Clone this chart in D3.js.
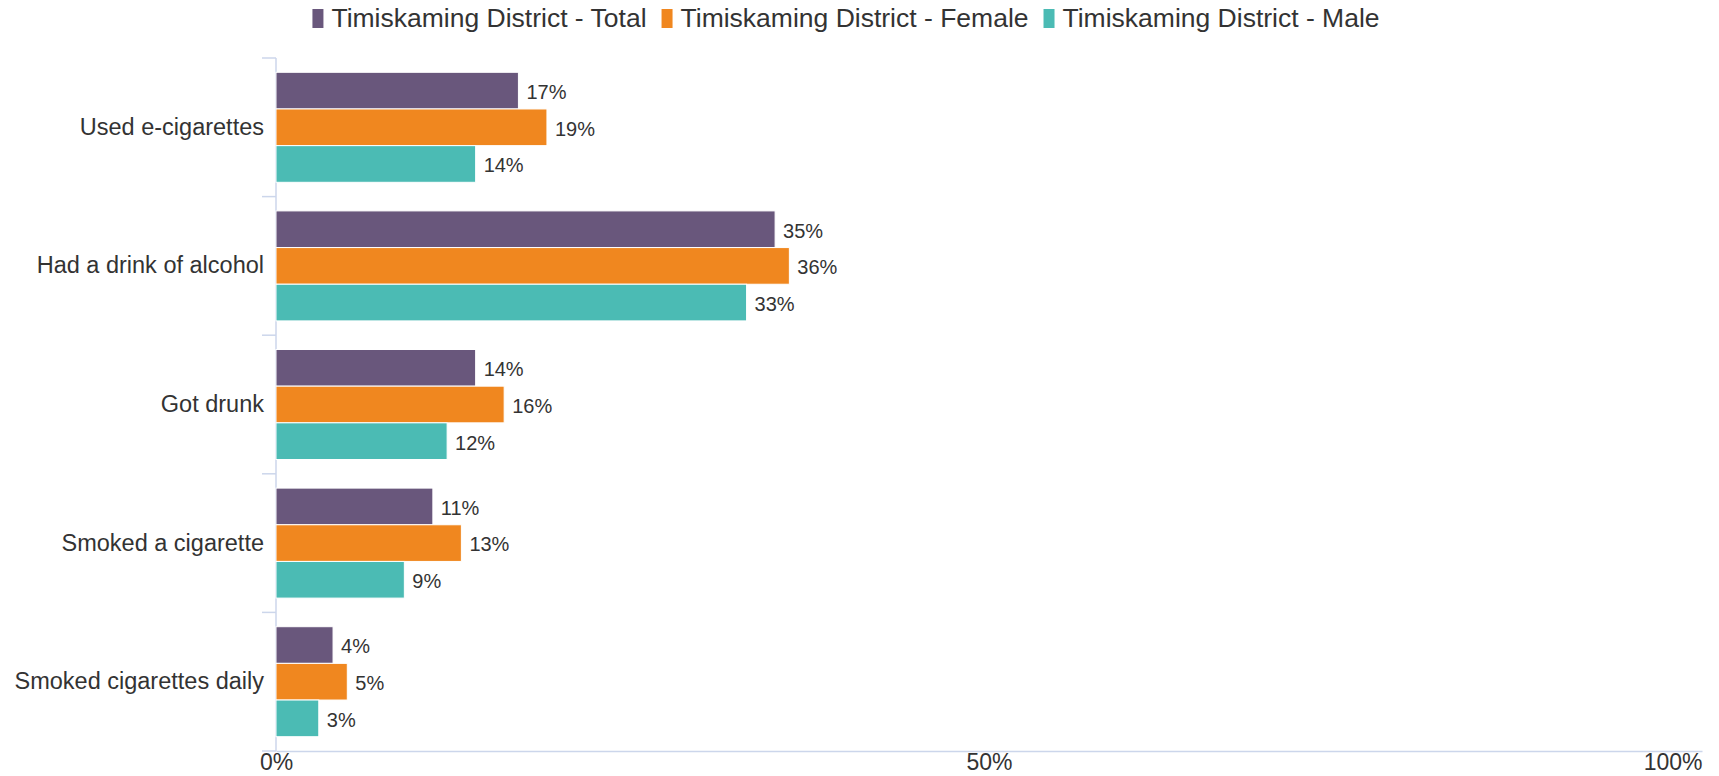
<!DOCTYPE html>
<html>
<head>
<meta charset="utf-8">
<script src="https://cdn.jsdelivr.net/npm/d3@7"></script>
<style>
  html, body { margin: 0; padding: 0; background: #fff; }
  svg { display: block; font-family: "Liberation Sans", Arial, sans-serif; }
</style>
</head>
<body>
<svg id="chart" width="1719" height="776"></svg>
<script>
const categories = ["Used e-cigarettes", "Had a drink of alcohol", "Got drunk", "Smoked a cigarette", "Smoked cigarettes daily"];
const seriesNames = ["Timiskaming District - Total", "Timiskaming District - Female", "Timiskaming District - Male"];
const totalValues = [17, 35, 14, 11, 4];
const femaleValues = [19, 36, 16, 13, 5];
const maleValues = [14, 33, 12, 9, 3];
const xTicks = [0, 50, 100];

const COLORS = ["#69577c", "#f0871f", "#4bbbb4"];
const AXIS_COLOR = "#ccd6eb";
const TEXT_COLOR = "#333333";

const seriesValues = [totalValues, femaleValues, maleValues];
const rows = categories.map((c, i) => ({
  category: c,
  values: seriesNames.map((s, j) => ({ series: s, idx: j, value: seriesValues[j][i] }))
}));

const svg = d3.select("#chart");
const plotLeft = 276, plotRight = 1702, plotTop = 58, plotBottom = 751;

const x = d3.scaleLinear().domain([0, 100]).range([plotLeft, plotRight]);
const y0 = d3.scaleBand().domain(categories).range([plotTop, plotBottom]).padding(0);
const y1 = d3.scaleBand().domain(seriesNames).range([0, y0.bandwidth()])
  .paddingInner(0).paddingOuter(0.39);

// y axis: line + boundary ticks
svg.append("line")
  .attr("x1", plotLeft).attr("x2", plotLeft)
  .attr("y1", plotTop).attr("y2", plotBottom)
  .attr("stroke", AXIS_COLOR).attr("stroke-width", 1.5);

const boundaries = categories.map(c => y0(c)).concat([plotBottom]);
svg.selectAll(".ytick")
  .data(boundaries)
  .join("line")
  .attr("class", "ytick")
  .attr("x1", plotLeft - 14).attr("x2", plotLeft)
  .attr("y1", d => d).attr("y2", d => d)
  .attr("stroke", AXIS_COLOR).attr("stroke-width", 1.5);

// category labels
const yAxis = svg.append("g")
  .attr("transform", `translate(${plotLeft - 12},0)`)
  .call(d3.axisLeft(y0).tickSize(0).tickPadding(0));
yAxis.select(".domain").remove();
yAxis.selectAll("text")
  .attr("font-size", 23.5)
  .attr("font-family", "Liberation Sans, Arial, sans-serif")
  .attr("fill", TEXT_COLOR);

// x axis
const xAxis = svg.append("g")
  .attr("transform", `translate(0,${plotBottom})`)
  .call(d3.axisBottom(x).tickValues(xTicks).tickSize(0).tickPadding(3).tickFormat(d => d + "%"));
xAxis.select(".domain").attr("stroke", AXIS_COLOR).attr("stroke-width", 1.5);
xAxis.selectAll("text")
  .attr("font-size", 23)
  .attr("font-family", "Liberation Sans, Arial, sans-serif")
  .attr("fill", TEXT_COLOR)
  .attr("text-anchor", d => d === 100 ? "end" : "middle");

// bars
const groups = svg.selectAll(".cat")
  .data(rows)
  .join("g")
  .attr("class", "cat")
  .attr("transform", d => `translate(0,${y0(d.category)})`);

groups.selectAll("rect")
  .data(d => d.values)
  .join("rect")
  .attr("x", x(0))
  .attr("y", d => y1(d.series))
  .attr("width", d => x(d.value) - x(0))
  .attr("height", y1.bandwidth())
  .attr("fill", d => COLORS[d.idx])
  .attr("stroke", "#ffffff")
  .attr("stroke-width", 1);

groups.selectAll(".val")
  .data(d => d.values)
  .join("text")
  .attr("class", "val")
  .attr("x", d => x(d.value) + 8)
  .attr("y", d => y1(d.series) + y1.bandwidth() / 2)
  .attr("dy", "0.42em")
  .attr("font-size", 20)
  .attr("fill", TEXT_COLOR)
  .text(d => d.value + "%");

// legend
const legend = svg.append("g");
let lx = 0;
seriesNames.forEach((s, i) => {
  const item = legend.append("g").attr("transform", `translate(${lx},0)`);
  item.append("rect")
    .attr("x", 0).attr("y", 9)
    .attr("width", 11).attr("height", 19)
    .attr("fill", COLORS[i]);
  const t = item.append("text")
    .attr("x", 19).attr("y", 27)
    .attr("font-size", 26.5)
    .attr("fill", TEXT_COLOR)
    .text(s);
  lx += 19 + t.node().getComputedTextLength() + 15;
});
legend.attr("transform", `translate(${846 - (lx - 15) / 2},0)`);
</script>
</body>
</html>
